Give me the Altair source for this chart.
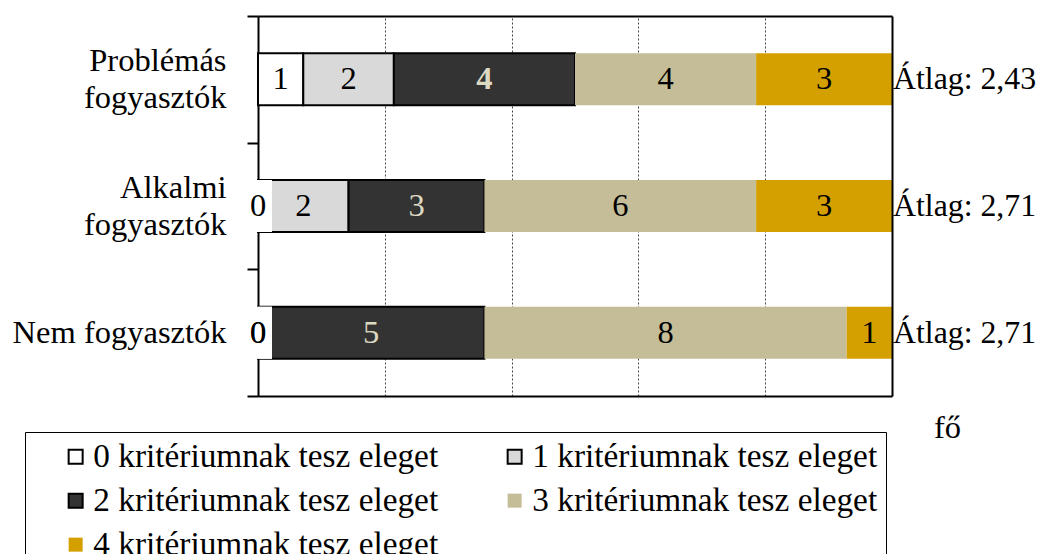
import altair as alt
import pandas as pd

# ---- data ----
groups = ["Problémás fogyasztók", "Alkalmi fogyasztók", "Nem fogyasztók"]
group_lines = [["Problémás", "fogyasztók"], ["Alkalmi\u00a0\u00a0", "fogyasztók"], ["Nem fogyasztók"]]
categories = [
    "0 kritériumnak tesz eleget",
    "1 kritériumnak tesz eleget",
    "2 kritériumnak tesz eleget",
    "3 kritériumnak tesz eleget",
    "4 kritériumnak tesz eleget",
]
problemas = [1, 2, 4, 4, 3]
alkalmi = [0, 2, 3, 6, 3]
nem = [0, 0, 5, 8, 1]
series = [problemas, alkalmi, nem]

fills = ["#ffffff", "#d9d9d9", "#333333", "#c4bd97", "#d4a000"]
strokes = ["#000000", "#000000", "#000000", "transparent", "transparent"]
label_colors = ["#000000", "#000000", "#ddd9c3", "#000000", "#000000"]
bold_cells = [("Problémás fogyasztók", 2)]
legend_order = [0, 2, 4, 1, 3]   # column-major layout -> rows (0,1), (2,3), (4)

FONT = "Liberation Serif, 'Times New Roman', Times, serif"
FS = 32.5
LFS = 33.3
AFS = 31.8

rows = []
for g, vals in zip(groups, series):
    for i, (c, v) in enumerate(zip(categories, vals)):
        rows.append({
            "group": g, "cat": c, "order": i, "value": v,
            "tcolor": label_colors[i],
            "bold": 1 if (g, i) in bold_cells else 0,
        })
df = pd.DataFrame(rows)

avg_rows = []
for g, vals in zip(groups, series):
    m = sum(i * v for i, v in enumerate(vals)) / sum(vals)
    avg_rows.append({"group": g, "txt": "Átlag: " + f"{m:.2f}".replace(".", ",")})
avg_df = pd.DataFrame(avg_rows)

# label expression for multi-line category labels
parts = []
for g, lines in zip(groups, group_lines):
    arr = "[" + ",".join("'" + s + "'" for s in lines) + "]"
    parts.append(f"datum.label == '{g}' ? {arr} : ")
label_expr = "".join(parts) + "datum.label"
single_line = [g for g, lines in zip(groups, group_lines) if len(lines) == 1]
single_test = " || ".join(f"datum.value == '{g}'" for g in single_line)

xscale = alt.Scale(domain=[0, 1], nice=False, zero=True)
yscale = alt.Scale(domain=groups, paddingInner=0, paddingOuter=0)

x_main_axis = alt.Axis(
    values=[0.2, 0.4, 0.6, 0.8], labels=False, ticks=False, grid=True,
    gridDash=[2, 2], gridColor="#444444", gridWidth=1,
    domainColor="black", domainWidth=2,
    title="fő", titleFont=FONT, titleFontSize=FS, titleFontWeight="normal",
    titleColor="black", titleX=689, titleY=41, titleAlign="center",
    titleBaseline="alphabetic",
)
y_main_axis = alt.Axis(
    title=None, labelExpr=label_expr, labelFont=FONT, labelFontSize=FS,
    labelColor="black", labelLineHeight=37, labelAlign="right",
    labelBaseline="middle", labelPadding=21, tickBand="extent", tickSize=11,
    labelOffset={"condition": {"test": single_test, "value": 0}, "value": -19},
    tickColor="black", tickWidth=2, domainColor="black", domainWidth=2,
    grid=False, labelLimit=400,
)

base = alt.Chart(df).transform_stack(
    stack="value", groupby=["group"], as_=["x0", "x1"], offset="normalize",
    sort=[alt.SortField("order")],
).transform_calculate(mid="(datum.x0 + datum.x1) / 2")

legend = alt.Legend(
    title=None, orient="none", legendX=-233, legendY=416, columns=2,
    symbolType="square", symbolSize=196, symbolStrokeWidth=2,
    labelFont=FONT, labelFontSize=LFS, labelColor="black", labelLimit=0,
    labelOffset=1, columnPadding=33, rowPadding=10, padding=8,
    symbolOffset=26, strokeColor="black", fillColor="white",
)

leg_domain = [categories[i] for i in legend_order]
bars = base.mark_bar(size=52, strokeWidth=2).encode(
    x=alt.X("x0:Q", scale=xscale, axis=x_main_axis),
    x2="x1:Q",
    y=alt.Y("group:N", sort=groups, scale=yscale, axis=y_main_axis),
    fill=alt.Fill("cat:N", scale=alt.Scale(domain=leg_domain, range=[fills[i] for i in legend_order]), legend=legend),
    stroke=alt.Stroke("cat:N", scale=alt.Scale(domain=leg_domain, range=[strokes[i] for i in legend_order]), legend=legend),
)

mask = base.transform_filter("datum.value == 0").mark_tick(
    thickness=28, size=52, color="white", opacity=1, orient="vertical"
).encode(
    x=alt.X("x0:Q", scale=xscale, axis=None),
    y=alt.Y("group:N", sort=groups, scale=yscale, axis=None),
)

txt = base.transform_filter("datum.bold == 0").mark_text(
    font=FONT, fontSize=FS, baseline="middle", align="center"
).encode(
    x=alt.X("mid:Q", scale=xscale, axis=None),
    y=alt.Y("group:N", sort=groups, scale=yscale, axis=None),
    text="value:Q",
    color=alt.Color("tcolor:N", scale=None),
)

txt_bold = base.transform_filter("datum.bold == 1").mark_text(
    font=FONT, fontSize=FS, baseline="middle", align="center", fontWeight="bold"
).encode(
    x=alt.X("mid:Q", scale=xscale, axis=None),
    y=alt.Y("group:N", sort=groups, scale=yscale, axis=None),
    text="value:Q",
    color=alt.Color("tcolor:N", scale=None),
)

avg = alt.Chart(avg_df).mark_text(
    font=FONT, fontSize=AFS, baseline="middle", align="left", dx=1, color="black"
).encode(
    x=alt.XDatum(1, type="quantitative", scale=xscale, axis=alt.Axis(
        orient="top", labels=False, ticks=False, grid=False,
        domainColor="black", domainWidth=2, title=None)),
    y=alt.Y("group:N", sort=groups, scale=yscale, axis=alt.Axis(
        orient="right", labels=False, ticks=False, grid=False,
        domainColor="black", domainWidth=2, title=None, zindex=1)),
    text="txt:N",
)

chart = alt.layer(bars, mask, txt, txt_bold, avg).resolve_axis(
    x="independent", y="independent"
).properties(
    width=634, height=380,
    autosize=alt.AutoSizeParams(type="none"),
    padding={"left": 250, "top": 8, "right": 144, "bottom": 158},
).configure_view(stroke=None)

chart.save("out.html", embed_options={"renderer": "svg", "actions": False})
